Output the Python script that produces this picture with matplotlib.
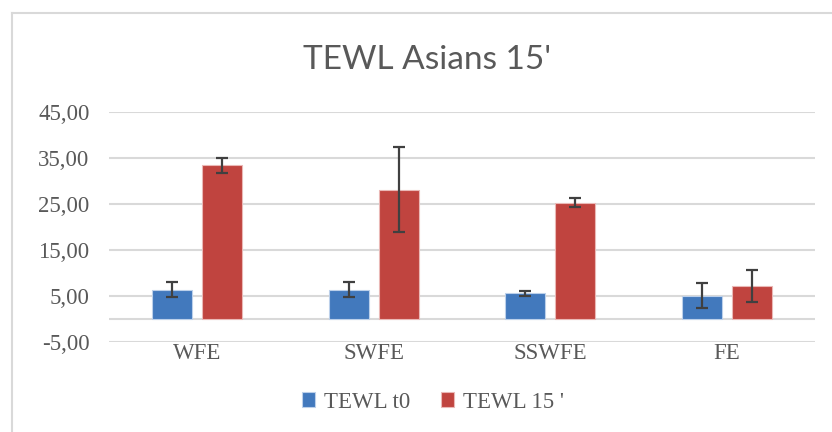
import numpy as np
import matplotlib.pyplot as plt

# TEWL values per treatment, with standard deviations for the error bars
categories = ['WFE', 'SWFE', 'SSWFE', 'FE']
tewl_t0 = [6.4, 6.4, 5.6, 5.1]
tewl_t0_err = [1.6, 1.7, 0.5, 2.7]
tewl_15 = [33.4, 28.1, 25.3, 7.1]
tewl_15_err = [1.7, 9.2, 0.9, 3.5]
series_names = ['TEWL t0', "TEWL 15 '"]
y_ticks = [-5, 5, 15, 25, 35, 45]

blue = '#4279bd'
red = '#c0443f'
grid_c = '#d9d9d9'
text_c = '#595959'
serif = ['Liberation Serif', 'DejaVu Serif']

fig = plt.figure(figsize=(8.32, 4.32), dpi=100)
ax = fig.add_axes([109 / 832, 1 - 342 / 432, (815 - 109) / 832, (342 - 112) / 432])

x = np.arange(len(categories))
w = 0.226
off = 0.142
err_kw = dict(ecolor='#404040', elinewidth=1.6, capsize=4.5, capthick=1.6)
ax.bar(x - off, tewl_t0, w, color=blue, edgecolor='#bcd0ea', linewidth=0.8,
       yerr=tewl_t0_err, error_kw=err_kw, label=series_names[0], zorder=3)
ax.bar(x + off, tewl_15, w, color=red, edgecolor='#eab8b6', linewidth=0.8,
       yerr=tewl_15_err, error_kw=err_kw, label=series_names[1], zorder=3)

ax.set_xlim(-0.5, len(categories) - 0.5)
ax.set_ylim(-5, 45)
ax.set_yticks(y_ticks)
ax.set_yticklabels([f'{v:.2f}'.replace('.', ',') for v in y_ticks],
                   fontsize=16.5, color=text_c, family=serif)
ax.set_xticks(x)
ax.set_xticklabels(categories, fontsize=16.5, color=text_c, family=serif)
ax.tick_params(axis='both', length=0)
ax.tick_params(axis='y', pad=14)
ax.tick_params(axis='x', pad=1)
for s in ax.spines.values():
    s.set_visible(False)
ax.grid(axis='y', color=grid_c, linewidth=1.5, zorder=0)
ax.axhline(0, color=grid_c, linewidth=1.5, zorder=1)

fig.text(427 / 832, 1 - 60 / 432, "TEWL Asians 15'", ha='center', va='center',
         fontsize=24, color=text_c, family=['Lato', 'DejaVu Sans'])

leg = fig.legend(loc='center', bbox_to_anchor=(433 / 832, 1 - 402 / 432), ncol=2,
                 frameon=False, prop={'family': serif, 'size': 16.5},
                 handlelength=0.6, handleheight=0.6, handletextpad=0.4,
                 columnspacing=1.3)
for t in leg.get_texts():
    t.set_color(text_c)

# chart area border (top and left edges visible in the crop)
fig.add_artist(plt.Line2D([12 / 832, 12 / 832], [0, 1 - 13 / 432],
                          color='#d9d9d9', linewidth=1.5))
fig.add_artist(plt.Line2D([12 / 832, 1], [1 - 13 / 432, 1 - 13 / 432],
                          color='#d9d9d9', linewidth=1.5))

fig.savefig('out.png', dpi=100)
